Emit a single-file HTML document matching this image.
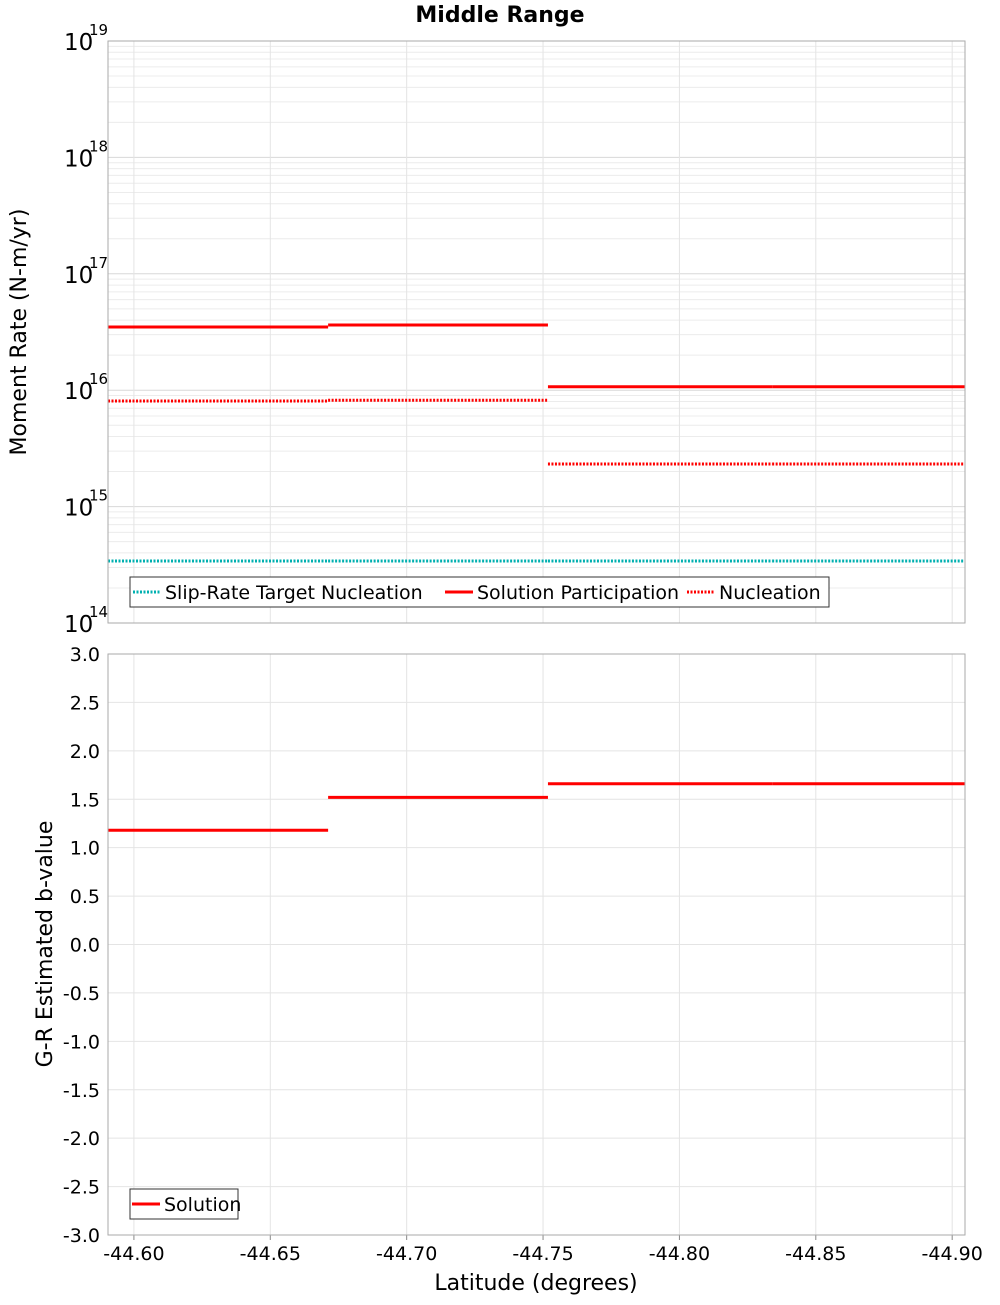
<!DOCTYPE html>
<html><head><meta charset="utf-8"><style>
body{margin:0;background:#fff;font-family:"Liberation Sans","DejaVu Sans",sans-serif}
svg text{font-family:"DejaVu Sans","Liberation Sans",sans-serif}
</style></head><body>
<svg id="chart" width="1000" height="1300" xmlns="http://www.w3.org/2000/svg">
<text x="500" y="22" text-anchor="middle" font-size="22" font-weight="bold">Middle Range</text>
<g id="top"></g>
<g id="bot"></g>
<text transform="translate(26,332) rotate(-90)" text-anchor="middle" font-size="22">Moment Rate (N-m/yr)</text>
<text transform="translate(52,944) rotate(-90)" text-anchor="middle" font-size="22">G-R Estimated b-value</text>
<text x="536" y="1290" text-anchor="middle" font-size="22">Latitude (degrees)</text>
</svg>
<script>
const xTicks=[-44.60,-44.65,-44.70,-44.75,-44.80,-44.85,-44.90];
const segStarts=[-44.5905,-44.6712,-44.7518,-44.8340];
const segEnds=[-44.6712,-44.7518,-44.8340,-44.9047];
const participation=[3.49e16,3.63e16,1.07e16,1.07e16];
const nucleation=[8.07e15,8.2e15,2.32e15,2.32e15];
const targetNucleation=[3.41e14,3.41e14,3.41e14,3.41e14];
const bValues=[1.18,1.52,1.66,1.66];
const logExps=[14,15,16,17,18,19];
const bTicks=[3.0,2.5,2.0,1.5,1.0,0.5,0.0,-0.5,-1.0,-1.5,-2.0,-2.5,-3.0];

const L=108,R=965,xMin=-44.5905,xMax=-44.9047;
const T1=41,B1=623,T2=654,B2=1235;
const NS='http://www.w3.org/2000/svg';
const X=v=>L+(v-xMin)/(xMax-xMin)*(R-L);
const Y1=v=>B1-(Math.log10(v)-14)/5*(B1-T1);
const Y2=v=>B2-(v+3)/6*(B2-T2);
function mk(parent,tag,attrs){const e=document.createElementNS(NS,tag);for(const k in attrs)e.setAttribute(k,attrs[k]);parent.appendChild(e);return e;}
const topG=document.getElementById('top'),botG=document.getElementById('bot');

for(let e=14;e<19;e++)for(let m=1;m<10;m++){const y=Y1(m*Math.pow(10,e));
 const l=mk(topG,'line',{x1:L,x2:R,y1:y,y2:y,stroke:m==1?'#d8d8d8':'#ececec','stroke-width':1});
 
 }
xTicks.forEach(t=>{[[topG,T1,B1],[botG,T2,B2]].forEach(([g,a,b])=>{const l=mk(g,'line',{x1:X(t),x2:X(t),y1:a,y2:b,stroke:'#e4e4e4'});
 
 });});
bTicks.forEach(t=>{const y=Y2(t);const l=mk(botG,'line',{x1:L,x2:R,y1:y,y2:y,stroke:'#e4e4e4'});
 
 
 const tx=mk(botG,'text',{x:L-8,y:y+7,'text-anchor':'end','font-size':19});tx.textContent=t.toFixed(1);
 
 });
logExps.forEach(e=>{const y=Y1(Math.pow(10,e));const tx=mk(topG,'text',{x:64,y:y+9,'font-size':23});tx.textContent='10';
 
 
 const s=mk(topG,'text',{x:89,y:y-6,'font-size':15});s.textContent=e;
 
 });
xTicks.forEach(t=>{const tx=mk(botG,'text',{x:X(t),y:1260,'text-anchor':'middle','font-size':19});tx.textContent=t.toFixed(2);
 
 
 const tk=mk(botG,'line',{x1:X(t),x2:X(t),y1:B2,y2:B2+5,stroke:'#888'});
 
 });

function series(g,vals,Y,color,dash,name){vals.forEach((v,i)=>{const l=mk(g,'line',{x1:X(segStarts[i]),x2:X(segEnds[i]),y1:Y(v),y2:Y(v),stroke:color,'stroke-width':3});
 if(dash)l.setAttribute('stroke-dasharray',dash);
 
 });}
series(topG,targetNucleation,Y1,'#00b0b0','2 1.5','target-nucleation-segment');
series(topG,nucleation,Y1,'#ff0000','2 1.5','nucleation-segment');
series(topG,participation,Y1,'#ff0000',null,'participation-segment');
series(botG,bValues,Y2,'#ff0000',null,'b-value-segment');

[[topG,T1,B1],[botG,T2,B2]].forEach(([g,a,b])=>{const r=mk(g,'rect',{x:L,y:a,width:R-L,height:b-a,fill:'none',stroke:'#aaa'});
 
 });

function legend(g,x,y,w,items){const r=mk(g,'rect',{x:x,y:y,width:w,height:30,fill:'#fff',stroke:'#333'});
 
 
 items.forEach(([lx,label,color,dash])=>{const l=mk(g,'line',{x1:lx,x2:lx+28,y1:y+15,y2:y+15,stroke:color,'stroke-width':3});
 if(dash)l.setAttribute('stroke-dasharray',dash);
 
 
 const t=mk(g,'text',{x:lx+32,y:y+22,'font-size':19});t.textContent=label;
 
 });}
legend(topG,130,577,699,[[133,'Slip-Rate Target Nucleation','#00b0b0','2 1.5'],[445,'Solution Participation','#ff0000',null],[687,'Nucleation','#ff0000','2 1.5']]);
legend(botG,130,1189,108,[[132,'Solution','#ff0000',null]]);
</script>
</body></html>
